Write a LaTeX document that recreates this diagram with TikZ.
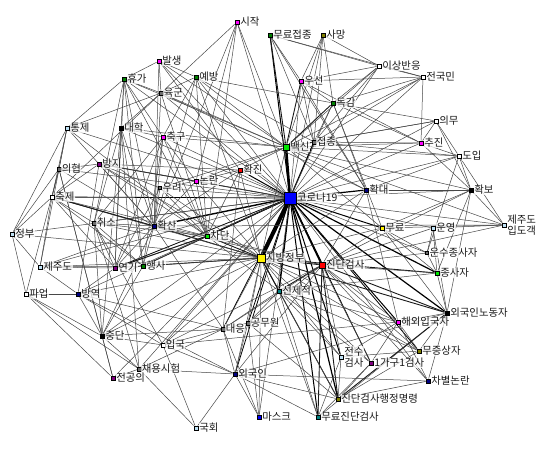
\documentclass[tikz,border=0pt]{standalone}
\usepackage{fontspec}
\setmainfont{Noto Sans CJK KR}
\usetikzlibrary{backgrounds}
\definecolor{dgreen}{RGB}{0,128,0}
\definecolor{lgreen}{RGB}{0,230,0}
\definecolor{olv}{RGB}{128,128,0}
\definecolor{nvy}{RGB}{0,0,128}
\definecolor{prp}{RGB}{128,0,128}
\definecolor{tl}{RGB}{0,128,128}
\definecolor{lb}{RGB}{190,225,245}
\definecolor{mg}{RGB}{255,0,255}
\definecolor{dg}{RGB}{110,110,110}
\begin{document}
\begin{tikzpicture}[x=1pt,y=-1pt,
  vx/.style={draw=black,line width=0.4pt,inner sep=0pt,minimum size=4.5pt,fill=#1},
  every label/.style={font=\fontsize{10.4}{11}\selectfont,fill=white,fill opacity=0.75,
    text opacity=1,text=black!90,inner sep=0.5pt},
  label distance=0.2pt,
  ln/.style={black!72,line width=0.5pt},
  ln2/.style={black!90,line width=0.9pt}]
\useasboundingbox (0,0) rectangle (550,450);
% 중심 노드
\node[vx=blue,minimum size=12pt,label=right:코로나19] (korona) at (290,198) {};
\node[vx=yellow,minimum size=8pt,label=right:지방정부] (jibang) at (261,258) {};
\node[vx=lgreen,minimum size=6.5pt,label=right:백신] (baeksin) at (286,147) {};
\node[vx=red,minimum size=6pt,label=right:진단검사] (jindan) at (322,265) {};
% 위쪽
\node[vx=mg,label=right:시작] (sijak) at (237,22) {};
\node[vx=dgreen,label=right:무료접종] (muryojeopjong) at (270,35) {};
\node[vx=olv,label=right:사망] (samang) at (323,35) {};
\node[vx=white,label=right:이상반응] (isang) at (379,66) {};
\node[vx=white,label=right:전국민] (jeonguk) at (423,77) {};
\node[vx=mg,label=right:발생] (balsaeng) at (159,61) {};
\node[vx=dgreen,label=right:휴가] (hyuga) at (124,79) {};
\node[vx=dgreen,label=right:예방] (yebang) at (196,77) {};
\node[vx=dg,minimum size=3.5pt,label=right:육군] (yukgun) at (161,93) {};
\node[vx=mg,label=right:우선] (useon) at (301,81) {};
\node[vx=dgreen,label=right:독감] (dokgam) at (333,103) {};
\node[vx=white,label=right:의무] (uimu) at (436,121) {};
\node[vx=lb,label=right:통제] (tongje) at (67,128) {};
\node[vx=black,label=right:대학] (daehak) at (121,128) {};
\node[vx=mg,label=right:축구] (chukgu) at (163,137) {};
\node[vx=dg,minimum size=3.5pt,label=right:접종] (jeopjong) at (314,142) {};
\node[vx=mg,label=right:추진] (chujin) at (421,143) {};
\node[vx=white,label=right:도입] (doip) at (459,156) {};
% 가운데
\node[vx=dg,minimum size=3.5pt,label=right:의협] (uihyeop) at (59,169) {};
\node[vx=prp,label=right:방지] (bangji) at (99,164) {};
\node[vx=red,label=right:확진] (hwakjin) at (240,170) {};
\node[vx=mg,label=right:논란] (nollan) at (196,181) {};
\node[vx=dg,minimum size=3pt,label=right:우려] (uryeo) at (160,188) {};
\node[vx=nvy,label=right:확대] (hwakdae) at (366,190) {};
\node[vx=black,label=right:확보] (hwakbo) at (471,190) {};
\node[vx=white,label=right:축제] (chukje) at (52,197) {};
\node[vx=dg,minimum size=3.5pt,label=right:취소] (chwiso) at (94,223) {};
\node[vx=nvy,label=right:확산] (hwaksan) at (154,226) {};
\node[vx=lgreen,label=right:차단] (chadan) at (207,236) {};
\node[vx=lb,label={[align=left]right:제주도\\입도객}] (ipdo) at (504,225) {};
\node[vx=yellow,label=right:무료] (muryo) at (382,228) {};
\node[vx=lb,label=right:운영] (unyeong) at (433,228) {};
\node[vx=lb,label=right:정부] (jeongbu) at (12,234) {};
\node[vx=dg,minimum size=3pt,label=right:운수종사자] (unsu) at (427,253) {};
\node[vx=lb,label=right:제주도] (jejudo) at (40,267) {};
\node[vx=prp,label=right:연기] (yeongi) at (115,268) {};
\node[vx=dgreen,label=right:행사] (haengsa) at (143,266) {};
\node[vx=lgreen,label=right:종사자] (jongsaja) at (437,273) {};
\node[vx=tl,label=right:선제적] (seonjejeok) at (279,291) {};
% 아래쪽
\node[vx=white,label=right:파업] (paeeop) at (26,294) {};
\node[vx=nvy,label=right:방역] (bangyeok) at (78,294) {};
\node[vx=black,label=right:외국인노동자] (nodongja) at (447,313) {};
\node[vx=mg,label=right:해외입국자] (haeoe) at (398,322) {};
\node[vx=dg,minimum size=3.5pt,label=right:대응] (daeeung) at (223,329) {};
\node[vx=dg,minimum size=3.5pt,label=right:공무원] (gongmuwon) at (248,323) {};
\node[vx=black,label=right:중단] (jungdan) at (102,336) {};
\node[vx=white,minimum size=3.5pt,label=right:입국] (ipguk) at (163,345) {};
\node[vx=olv,label=right:무증상자] (mujeung) at (419,351) {};
\node[vx=lb,label={[align=left]right:전수\\검사}] (jeonsu) at (341,357) {};
\node[vx=prp,label=right:1가구1검사] (gagu) at (371,363) {};
\node[vx=dg,minimum size=3.5pt,label=right:채용시험] (chaeyong) at (139,369) {};
\node[vx=prp,label=right:전공의] (jeongongui) at (113,378) {};
\node[vx=nvy,label=right:외국인] (oegugin) at (235,374) {};
\node[vx=nvy,label=right:차별논란] (chabyeol) at (428,381) {};
\node[vx=olv,label=right:진단검사행정명령] (haengjeong) at (338,399) {};
\node[vx=blue,label=right:마스크] (maseukeu) at (259,417) {};
\node[vx=tl,label=right:무료진단검사] (muryojindan) at (318,417) {};
\node[vx=lb,label=right:국회] (gukhoe) at (196,428) {};

\begin{scope}[on background layer]
% 코로나19 연결
\foreach \b/\w in {jibang/4,baeksin/2.5,jindan/1.8,seonjejeok/1.5,chadan/1.4,hwaksan/1.4,
  hwakdae/1.2,nodongja/1.2,jongsaja/1.2,haengjeong/1.2,muryojindan/1,muryo/1,haeoe/1,
  jeonsu/1,jeopjong/1.2,muryojeopjong/1,hwakjin/1,gagu/0.8,mujeung/0.8,oegugin/0.8,
  daeeung/0.8,gongmuwon/0.8,yeongi/0.8,haengsa/0.8,bangji/0.8,chukje/0.8}
  \draw[black,line width=\w pt] (korona) -- (\b);
\foreach \b in {unyeong,unsu,ipdo,hwakbo,doip,chujin,useon,dokgam,isang,jeonguk,samang,
  sijak,yebang,nollan,uryeo,chukgu,daehak,chwiso,jeongbu,jejudo,bangyeok,jungdan,ipguk,
  maseukeu,chaeyong,uihyeop,tongje,hyuga,yukgun,balsaeng,jeongongui,chabyeol,uimu}
  \draw[ln] (korona) -- (\b);
% 지방정부 연결
\foreach \b in {chadan,hwaksan,jindan,seonjejeok,haengsa,nodongja,jongsaja,haengjeong}
  \draw[ln2] (jibang) -- (\b);
\foreach \b in {baeksin,yeongi,jungdan,bangyeok,daeeung,gongmuwon,oegugin,haeoe,mujeung,
  muryo,hwakdae,hwakjin,nollan,chwiso,chukje,jejudo,jeongbu,ipguk,muryojindan,jeonsu,
  gagu,maseukeu,uryeo,bangji}
  \draw[ln] (jibang) -- (\b);
% 백신 연결
\foreach \b in {jeopjong,useon,dokgam,muryojeopjong}
  \draw[ln2] (baeksin) -- (\b);
\foreach \b in {isang,jeonguk,samang,sijak,yebang,uimu,chujin,doip,hwakbo,hwakdae,muryo,
  hwakjin,nollan,chukgu,daehak,yukgun,balsaeng,hyuga,uryeo,ipdo}
  \draw[ln] (baeksin) -- (\b);
% 진단검사 연결
\foreach \b in {seonjejeok,nodongja,haengjeong,muryojindan}
  \draw[ln2] (jindan) -- (\b);
\foreach \b in {jongsaja,haeoe,mujeung,jeonsu,gagu,unsu,unyeong,muryo,hwakdae,oegugin,
  gongmuwon,daeeung,chadan,hwaksan,ipguk,chabyeol,ipdo,hwakbo}
  \draw[ln] (jindan) -- (\b);
% 주변 연결
\foreach \a/\b in {sijak/yukgun,sijak/hwaksan,sijak/chadan,sijak/nollan,
  balsaeng/hyuga,balsaeng/yukgun,balsaeng/hwakjin,balsaeng/hwaksan,balsaeng/yebang,
  hyuga/tongje,hyuga/daehak,hyuga/yukgun,hyuga/chwiso,hyuga/hwaksan,hyuga/chadan,
  hyuga/yeongi,hyuga/haengsa,hyuga/chukgu,
  yebang/yukgun,yebang/jeopjong,yebang/hwaksan,yebang/chadan,yebang/dokgam,
  yebang/jibang,yebang/chukgu,
  yukgun/tongje,yukgun/chukje,yukgun/daehak,yukgun/hwaksan,yukgun/chadan,yukgun/hwakdae,
  tongje/jeongbu,tongje/chukje,tongje/uihyeop,tongje/hwaksan,tongje/chadan,tongje/jejudo,
  daehak/chukgu,daehak/chwiso,daehak/hwaksan,daehak/yeongi,daehak/haengsa,
  daehak/jungdan,daehak/chaeyong,
  chukgu/hwaksan,chukgu/chwiso,chukgu/yeongi,chukgu/haengsa,chukgu/nollan,chukgu/chadan,
  uihyeop/jeongbu,uihyeop/paeeop,uihyeop/jeongongui,uihyeop/jungdan,uihyeop/bangji,
  uihyeop/chukje,uihyeop/hwaksan,
  bangji/hwaksan,bangji/chadan,bangji/chukje,bangji/bangyeok,bangji/nollan,
  bangji/hwakjin,bangji/uryeo,
  chukje/jeongbu,chukje/chwiso,chukje/yeongi,chukje/jejudo,chukje/hwaksan,
  chukje/chadan,chukje/haengsa,
  chwiso/yeongi,chwiso/haengsa,chwiso/hwaksan,chwiso/chadan,chwiso/jungdan,
  chwiso/chaeyong,chwiso/ipguk,
  jeongbu/jejudo,jeongbu/paeeop,
  jejudo/yeongi,jejudo/haengsa,jejudo/bangyeok,jejudo/hwaksan,
  paeeop/jungdan,paeeop/jeongongui,paeeop/bangyeok,paeeop/chaeyong,
  bangyeok/jungdan,bangyeok/ipguk,bangyeok/daeeung,bangyeok/oegugin,bangyeok/yeongi,
  jungdan/jeongongui,jungdan/chaeyong,jungdan/ipguk,jungdan/haengsa,jungdan/daeeung,
  ipguk/oegugin,ipguk/daeeung,ipguk/haeoe,
  chaeyong/gukhoe,chaeyong/jeongongui,chaeyong/oegugin,
  gukhoe/oegugin,gukhoe/ipguk,
  oegugin/maseukeu,oegugin/muryojindan,oegugin/daeeung,oegugin/gongmuwon,
  oegugin/nodongja,oegugin/haengjeong,oegugin/chabyeol,
  maseukeu/daeeung,maseukeu/gongmuwon,
  muryojindan/nodongja,muryojindan/jeonsu,muryojindan/gagu,muryojindan/seonjejeok,
  haengjeong/seonjejeok,haengjeong/jeonsu,haengjeong/gagu,
  haengjeong/chabyeol,haengjeong/mujeung,
  chabyeol/nodongja,chabyeol/haeoe,
  mujeung/haeoe,mujeung/nodongja,mujeung/jeonsu,mujeung/seonjejeok,
  gagu/haeoe,gagu/seonjejeok,jeonsu/seonjejeok,jeonsu/haeoe,
  haeoe/nodongja,haeoe/seonjejeok,haeoe/hwakdae,
  nodongja/unyeong,nodongja/jongsaja,nodongja/muryo,nodongja/hwakbo,
  jongsaja/unsu,jongsaja/unyeong,jongsaja/muryo,jongsaja/seonjejeok,jongsaja/hwakbo,
  unsu/muryo,unsu/unyeong,unsu/doip,
  ipdo/hwakbo,ipdo/doip,ipdo/unyeong,ipdo/muryo,ipdo/hwaksan,
  hwakbo/doip,hwakbo/uimu,hwakbo/chujin,hwakbo/hwakdae,hwakbo/muryo,
  doip/uimu,doip/chujin,doip/jeopjong,doip/hwakdae,
  uimu/chujin,uimu/jeopjong,uimu/dokgam,
  chujin/jeopjong,chujin/dokgam,chujin/useon,chujin/jeonguk,
  jeonguk/isang,jeonguk/jeopjong,jeonguk/muryojeopjong,jeonguk/useon,jeonguk/dokgam,
  isang/samang,isang/muryojeopjong,isang/dokgam,isang/useon,isang/jeopjong,
  samang/useon,samang/jeopjong,samang/dokgam,
  muryojeopjong/jeopjong,muryojeopjong/useon,muryojeopjong/hwakdae,
  useon/jeopjong,useon/dokgam,useon/hwakdae,
  dokgam/jeopjong,dokgam/hwakdae,dokgam/muryo,
  hwakjin/nollan,hwakjin/hwaksan,hwakjin/chadan,hwakjin/daeeung,
  nollan/hwaksan,nollan/uryeo,nollan/chadan,
  uryeo/hwaksan,uryeo/chadan,uryeo/yeongi,
  hwaksan/chadan,hwaksan/yeongi,hwaksan/haengsa,hwaksan/jungdan,hwaksan/daeeung,
  chadan/haengsa,chadan/yeongi,chadan/seonjejeok,
  seonjejeok/daeeung,seonjejeok/gongmuwon,
  daeeung/gongmuwon,daeeung/chaeyong,gongmuwon/haengjeong}
  \draw[ln] (\a) -- (\b);
\draw[ln2] (haengjeong) -- (nodongja);
\draw[ln2] (hwaksan) -- (chukje);
\draw[ln2] (yeongi) -- (chadan);
\end{scope}
\end{tikzpicture}
\end{document}
